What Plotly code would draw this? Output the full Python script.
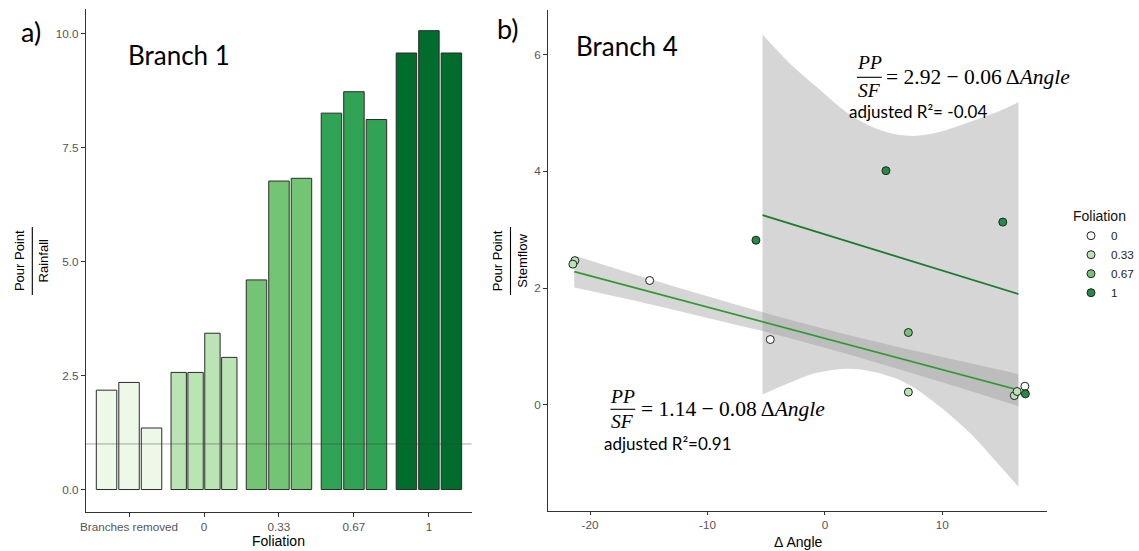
import plotly.graph_objects as go

W, H = 1139, 551

# ---------------- panel a : Branch 1 ----------------
group_labels = ["Branches removed", "0", "0.33", "0.67", "1"]
branches_removed = [2.18, 2.35, 1.35]
foliation_0 = [2.57, 2.57, 3.43, 2.90]
foliation_033 = [4.60, 6.77, 6.83]
foliation_067 = [8.26, 8.73, 8.12]
foliation_1 = [9.58, 10.07, 9.58]
bar_colors = ["#EDF8E9", "#BAE4B3", "#74C476", "#31A354", "#006D2C"]
reference_level = 1.0
left_yticks = [0, 2.5, 5, 7.5, 10]

# ---------------- panel b : Branch 4 ----------------
level_names = ["0", "0.33", "0.67", "1"]
point_colors = ["#F7FCF5", "#BAE4B3", "#74C476", "#238B45"]
pts0_x = [-14.92, -4.65, 17.03]
pts0_y = [2.13, 1.12, 0.32]
pts033_x = [-21.29, -21.46, 7.11, 16.13, 16.37]
pts033_y = [2.47, 2.41, 0.22, 0.16, 0.23]
pts067_x = [7.11]
pts067_y = [1.24]
pts1_x = [-5.87, 5.20, 15.15, 17.07]
pts1_y = [2.82, 4.01, 3.13, 0.19]

low_fit_intercept = 1.14
low_fit_slope = -0.0536
low_fit_x = [-21.34, -15, -10, -5, 0, 5, 10, 16.48]
low_band_upper = [2.56, 2.16, 1.86, 1.57, 1.30, 1.05, 0.82, 0.53]
low_band_lower = [2.01, 1.73, 1.49, 1.25, 0.98, 0.69, 0.39, -0.02]

high_fit_intercept = 2.92
high_fit_slope = -0.062
high_fit_x = [-5.31, -3, -0.69, 2.11, 4.5, 6.86, 9.1, 12.46, 14.5, 16.48]
high_band_upper = [6.34, 5.85, 5.44, 4.97, 4.72, 4.61, 4.64, 4.85, 5.0, 5.18]
high_band_lower = [0.18, 0.38, 0.55, 0.62, 0.55, 0.38, 0.08, -0.50, -0.95, -1.40]

right_xticks = [-20, -10, 0, 10]
right_xticklabels = ["-20", "-10", "0", "10"]
right_yticks = [0, 2, 4, 6]

# ---------------- helpers ----------------
def px(x):
    return x / W


def py(y):
    return 1 - y / H


SANS = "Liberation Sans, Arial, sans-serif"
CAL = "Lato, Carlito, Calibri, sans-serif"
SERIF = "Liberation Serif, Times New Roman, serif"
AX = "#333333"
TICKC = "#555555"

fig = go.Figure()

# bars (dodged within each foliation group)
bar_groups = [branches_removed, foliation_0, foliation_033, foliation_067, foliation_1]
dodge = 0.9
for gi, (vals, col) in enumerate(zip(bar_groups, bar_colors)):
    n = len(vals)
    slot = dodge / n
    xs = [gi + 1 + (j - (n - 1) / 2) * slot for j in range(n)]
    fig.add_trace(go.Bar(
        x=xs, y=vals, width=slot * 0.91,
        marker=dict(color=col, line=dict(color="#2b2b2b", width=1)),
        xaxis="x", yaxis="y", showlegend=False, hoverinfo="y",
    ))

# confidence ribbons
ribbon_fill = "rgba(153,153,153,0.4)"
for bx, bu, bl in [(high_fit_x, high_band_upper, high_band_lower),
                   (low_fit_x, low_band_upper, low_band_lower)]:
    fig.add_trace(go.Scatter(x=bx, y=bl, mode="lines", line=dict(width=0, shape="spline"),
                             xaxis="x2", yaxis="y2", showlegend=False, hoverinfo="skip"))
    fig.add_trace(go.Scatter(x=bx, y=bu, mode="lines", line=dict(width=0, shape="spline"),
                             fill="tonexty", fillcolor=ribbon_fill,
                             xaxis="x2", yaxis="y2", showlegend=False, hoverinfo="skip"))

# fitted lines
for bx, a, b, col in [(low_fit_x, low_fit_intercept, low_fit_slope, "#2f9a32"),
                      (high_fit_x, high_fit_intercept, high_fit_slope, "#1c7a30")]:
    lx = [bx[0], bx[-1]]
    fig.add_trace(go.Scatter(x=lx, y=[a + b * v for v in lx], mode="lines",
                             line=dict(color=col, width=1.8),
                             xaxis="x2", yaxis="y2", showlegend=False, hoverinfo="skip"))

# points
for name, xs, ys, col in zip(level_names, [pts0_x, pts033_x, pts067_x, pts1_x],
                             [pts0_y, pts033_y, pts067_y, pts1_y], point_colors):
    fig.add_trace(go.Scatter(x=xs, y=ys, mode="markers", name=name,
                             marker=dict(size=8, color=col, line=dict(color="#222222", width=1)),
                             xaxis="x2", yaxis="y2"))

axis_common = dict(showline=True, linecolor=AX, linewidth=1.1, ticks="outside",
                   ticklen=3.7, tickcolor=AX, tickwidth=1.1, showgrid=False, zeroline=False,
                   tickfont=dict(family=SANS, size=11.7, color=TICKC))

fig.update_layout(
    width=W, height=H, margin=dict(l=0, r=0, t=0, b=0),
    paper_bgcolor="white", plot_bgcolor="white", barmode="overlay",
    xaxis=dict(domain=[px(81.7), px(473.3)], range=[0.42, 5.57], tickvals=[1, 2, 3, 4, 5],
               ticktext=group_labels, anchor="y", **axis_common),
    yaxis=dict(domain=[py(512.3), py(8.8)], range=[-0.5, 10.55], tickvals=left_yticks,
               tickformat=".1f", anchor="x", **axis_common),
    xaxis2=dict(domain=[px(550.7), px(1056.8)], range=[-23.58, 18.91], tickvals=right_xticks,
                ticktext=right_xticklabels, anchor="y2", **axis_common),
    yaxis2=dict(domain=[py(510.7), py(10)], range=[-1.81, 6.76], tickvals=right_yticks,
                anchor="x2", **axis_common),
    legend=dict(x=px(1081.5), y=py(203), xanchor="left", yanchor="top", traceorder="normal",
                title=dict(text="Foliation", font=dict(family=SANS, size=14, color="#111")),
                font=dict(family=SANS, size=11.7, color="#222"), bgcolor="rgba(0,0,0,0)"),
    showlegend=True,
)

fig.add_shape(type="line", xref="x domain", x0=0, x1=1, yref="y", y0=reference_level,
              y1=reference_level, line=dict(color="rgba(60,60,60,0.45)", width=1), layer="above")

ann = []


def text(t, x, y, size, family=SANS, xanchor="center", yanchor="middle", angle=0, color="#000"):
    ann.append(dict(text=t, x=px(x), y=py(y), xref="paper", yref="paper", showarrow=False,
                    xanchor=xanchor, yanchor=yanchor, textangle=angle,
                    font=dict(family=family, size=size, color=color)))


def hline(x0, x1, y, color="#000", width=1.2):
    fig.add_shape(type="line", xref="paper", yref="paper", x0=px(x0), x1=px(x1),
                  y0=py(y), y1=py(y), line=dict(color=color, width=width))


def vline(x, y0, y1, color="#000", width=1.2):
    fig.add_shape(type="line", xref="paper", yref="paper", x0=px(x), x1=px(x),
                  y0=py(y0), y1=py(y1), line=dict(color=color, width=width))


# panel labels
text("a)", 26, 31.6, 27, CAL)
text("Branch 1", 122.7, 55, 26, CAL, xanchor="left")
text("b)", 510.5, 29, 27, CAL)
text("Branch 4", 577.3, 46, 26, CAL, xanchor="left")

# axis titles
text("Pour Point", 15.3, 261, 13, angle=-90)
vline(27.7, 227, 295, width=1.1)
text("Rainfall", 40, 261, 13, angle=-90)
text("Foliation", 277.5, 540.7, 14)

text("Pour Point", 500.3, 261, 13, angle=-90)
vline(512.7, 227, 295, width=1.1)
text("Stemflow", 525, 261, 13, angle=-90)
text("\u0394 Angle", 804, 541.7, 14)

# equations
text("<i>PP</i>", 876.7, 62, 19.5, SERIF)
hline(864, 889.3, 77.3, width=1.1)
text("<i>SF</i>", 876.7, 90.5, 19.5, SERIF)
text("= 2.92 \u2212 0.06 \u0394<i>Angle</i>", 891.7, 77.3, 21.5, SERIF, xanchor="left")
text("adjusted R\u00b2= -0.04", 853.5, 111.5, 17, CAL, xanchor="left")

text("<i>PP</i>", 626.5, 396, 19.5, SERIF)
hline(614, 639.3, 409.3, width=1.1)
text("<i>SF</i>", 626.5, 421.5, 19.5, SERIF)
text("= 1.14 \u2212 0.08 \u0394<i>Angle</i>", 643.3, 409.3, 21.5, SERIF, xanchor="left")
text("adjusted R\u00b2=0.91", 606, 443.5, 17, CAL, xanchor="left")

fig.update_layout(annotations=ann)

fig.write_html("out.html")
